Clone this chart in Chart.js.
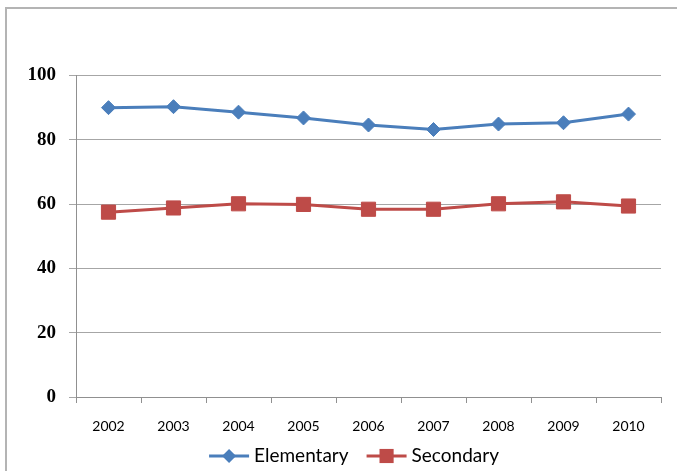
<!DOCTYPE html>
<html>
<head>
<meta charset="utf-8">
<script src="https://cdn.jsdelivr.net/npm/chart.js@4/dist/chart.umd.min.js"></script>
<style>
  html, body { margin: 0; padding: 0; background: #fff; overflow: hidden; }
  #wrap { position: relative; width: 677px; height: 471px; }
  #frame { position: absolute; left: 5px; top: 7px; width: 700px; height: 500px;
           border-left: 2px solid #b4b4b4; border-top: 2px solid #b4b4b4; pointer-events: none; }
  canvas { position: absolute; left: 0; top: 0; }
</style>
</head>
<body>
<div id="wrap">
  <div id="frame"></div>
  <canvas id="c" width="677" height="471"></canvas>
</div>
<script>
const years = ['2002','2003','2004','2005','2006','2007','2008','2009','2010'];
const elementary = [90.0, 90.3, 88.6, 86.8, 84.6, 83.2, 84.9, 85.3, 88.0];
const secondary  = [57.5, 58.8, 60.1, 59.9, 58.4, 58.4, 60.1, 60.7, 59.4];
const seriesNames = ['Elementary', 'Secondary'];
const seriesColors = ['#4a7ebb', '#be4b48'];
const yTicks = [0, 20, 40, 60, 80, 100];

const legendPlugin = {
  id: 'lineLegend',
  afterDraw(chart) {
    const ctx = chart.ctx;
    ctx.save();
    ctx.font = '19px Lato';
    const lineW = 40, gapText = 5, gapItem = 18;
    const items = chart.data.datasets.map(ds => ({
      label: ds.label, color: ds.borderColor, style: ds.pointStyle, r: ds.pointRadius,
      tw: ctx.measureText(ds.label).width
    }));
    let total = 0;
    items.forEach((it, i) => { total += lineW + gapText + it.tw + (i ? gapItem : 0); });
    let x = 354 - total / 2;
    const yLine = 456, yText = 462;
    items.forEach((it, i) => {
      if (i) x += gapItem;
      ctx.strokeStyle = it.color; ctx.lineWidth = 3;
      ctx.beginPath(); ctx.moveTo(x, yLine); ctx.lineTo(x + lineW, yLine); ctx.stroke();
      ctx.fillStyle = it.color;
      ctx.beginPath();
      const cx = x + lineW / 2;
      if (it.style === 'rectRot') {
        const r = it.r;
        ctx.moveTo(cx, yLine - r); ctx.lineTo(cx + r, yLine); ctx.lineTo(cx, yLine + r); ctx.lineTo(cx - r, yLine);
        ctx.closePath();
      } else {
        const s = it.r * Math.SQRT1_2;
        ctx.rect(cx - s, yLine - s, 2 * s, 2 * s);
      }
      ctx.fill();
      ctx.fillStyle = '#000';
      ctx.textBaseline = 'alphabetic';
      ctx.textAlign = 'left';
      ctx.fillText(it.label, x + lineW + gapText, yText);
      x += lineW + gapText + it.tw;
    });
    ctx.restore();
  }
};

new Chart(document.getElementById('c'), {
  type: 'line',
  data: {
    labels: years,
    datasets: [
      { label: seriesNames[0], data: elementary, borderColor: seriesColors[0], backgroundColor: seriesColors[0],
        borderWidth: 3, tension: 0, pointStyle: 'rectRot', pointRadius: 7,
        pointBackgroundColor: seriesColors[0], pointBorderColor: seriesColors[0], pointBorderWidth: 1 },
      { label: seriesNames[1], data: secondary, borderColor: seriesColors[1], backgroundColor: seriesColors[1],
        borderWidth: 3, tension: 0, pointStyle: 'rect', pointRadius: 10,
        pointBackgroundColor: seriesColors[1], pointBorderColor: seriesColors[1], pointBorderWidth: 1 }
    ]
  },
  options: {
    responsive: false,
    animation: false,
    layout: { padding: { left: 0, right: 16, top: 75.5, bottom: 34 } },
    plugins: { legend: { display: false }, tooltip: { enabled: false }, title: { display: false } },
    scales: {
      x: {
        offset: true,
        grid: { offset: true, drawOnChartArea: false, drawTicks: true, tickLength: 6, color: '#909090' },
        border: { color: '#909090', width: 1 },
        ticks: { color: '#000', font: { family: 'Lato', size: 14 }, padding: 15, maxRotation: 0 },
        afterFit(s) { s.height = 40; }
      },
      y: {
        min: 0, max: 100,
        afterBuildTicks(s) { s.ticks = yTicks.map(v => ({ value: v })); },
        grid: { color: '#a6a6a6', tickLength: 7, drawTicks: true },
        border: { color: '#909090', width: 1 },
        ticks: { color: '#000', font: { family: 'Liberation Serif', size: 19, weight: 'bold' }, padding: 13 },
        afterFit(s) { s.width = 76; }
      }
    }
  },
  plugins: [legendPlugin]
});
</script>
</body>
</html>
